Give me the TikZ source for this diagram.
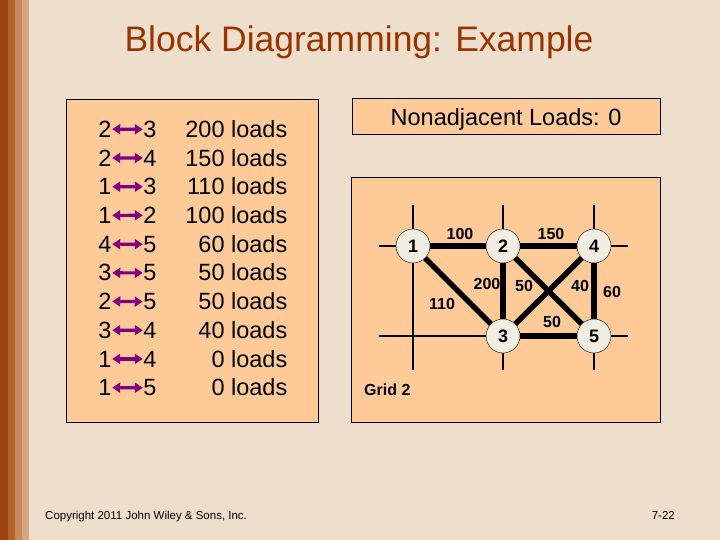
\documentclass[tikz,border=0pt]{standalone}
\usepackage{fontspec}
\setmainfont{Liberation Sans}
\usetikzlibrary{arrows.meta}
\definecolor{slidebg}{HTML}{EEDFCC}
\definecolor{boxpeach}{HTML}{FDCA98}
\definecolor{titlebrown}{HTML}{993300}
\definecolor{stripeA}{HTML}{9C4410}
\definecolor{stripeB}{HTML}{B0642E}
\definecolor{stripeC}{HTML}{C88A5C}
\definecolor{stripeD}{HTML}{D6A47E}
\definecolor{nodecream}{HTML}{F0EDE2}
\definecolor{pairpurple}{HTML}{800080}
\pgfdeclarelayer{deptlayer}
\pgfsetlayers{main,deptlayer}

\begin{document}
\begin{tikzpicture}[x=1pt, y=-1pt, >={Triangle[length=8pt,width=10pt]},
  listtext/.style={font=\fontsize{23.5}{28}\selectfont, inner sep=0.5pt},
  dept/.style={circle, draw, thin, fill=nodecream, minimum size=34pt, inner sep=0pt,
    font=\fontsize{18}{18}\selectfont\bfseries},
  flow/.style={line width=5.5pt},
  gridline/.style={line width=2.7pt},
  wlabel/.style={font=\fontsize{16}{16}\selectfont\bfseries, inner sep=0pt}]
  % slide background and left stripes (720 x 540 px)
  \fill[slidebg] (0,0) rectangle (720,540);
  \useasboundingbox (0,0) rectangle (720,540);
  \fill[stripeA] (0,0) rectangle (8,540);
  \fill[stripeB] (8,0) rectangle (15,540);
  \fill[stripeC] (15,0) rectangle (22,540);
  \fill[stripeD] (22,0) rectangle (29,540);

  % Title
  \node[anchor=base, titlebrown, font=\fontsize{35.5}{40}\selectfont] (title) at (359,52)
    {Block Diagramming: Example};

  % Load list box
  \draw[thin, fill=boxpeach] (66.5,99) rectangle (318,422);
  \foreach \a/\b/\n [count=\i] in {2/3/200, 2/4/150, 1/3/110, 1/2/100, 4/5/60,
                                   3/5/50, 2/5/50, 3/4/40, 1/4/0, 1/5/0} {
    \node[listtext, anchor=base] (pa\i) at (105, {137.4+28.7*(\i-1)}) {\a};
    \node[listtext, anchor=base] (pb\i) at (150, {137.4+28.7*(\i-1)}) {\b};
    \node[listtext, anchor=base east] (ld\i) at (288, {137.4+28.7*(\i-1)}) {\n\ loads};
    \draw[<->, pairpurple, line width=3.2pt] (pa\i.east) -- (pb\i.west);
  }

  % Nonadjacent loads box
  \draw[thin, fill=boxpeach] (352,98) rectangle (660,134);
  \node[listtext, anchor=base west] (nonadj) at (390,125.5) {Nonadjacent Loads: 0};

  % Grid 2 box
  \draw[thin, fill=boxpeach] (351,177) rectangle (660,422);

  % Departments (kept above the lines)
  \begin{pgfonlayer}{deptlayer}
    \node[dept] (d1) at (413,246) {1};
    \node[dept] (d2) at (503,246) {2};
    \node[dept] (d4) at (594,246) {4};
    \node[dept] (d3) at (503,336) {3};
    \node[dept] (d5) at (594,336) {5};
  \end{pgfonlayer}

  % grid lines
  \foreach \x in {413, 503, 594}
    \draw[gridline] (\x,205) -- (\x,370);
  \foreach \y in {246, 336}
    \draw[gridline] (379,\y) -- (628,\y);
  % adjacent flows
  \draw[flow] (d1) -- (d2);
  \draw[flow] (d2) -- (d4);
  \draw[flow] (d1) -- (d3);
  \draw[flow] (d2) -- (d3);
  \draw[flow] (d2) -- (d5);
  \draw[flow] (d4) -- (d3);
  \draw[flow] (d4) -- (d5);
  \draw[flow] (d3) -- (d5);

  % flow labels
  \node[wlabel] (w12) at (460,234) {100};
  \node[wlabel] (w24) at (551,234) {150};
  \node[wlabel] (w23) at (487,284) {200};
  \node[wlabel] (w25) at (524,286) {50};
  \node[wlabel] (w34) at (580,286) {40};
  \node[wlabel] (w45) at (612,292) {60};
  \node[wlabel] (w13) at (442,304) {110};
  \node[wlabel] (w35) at (552,322) {50};
  \node[wlabel, anchor=base west] (gridname) at (364,395) {Grid 2};

  % footer
  \node[anchor=base west, font=\fontsize{11.5}{12}\selectfont, inner sep=0pt] (copy) at (45,519)
    {Copyright 2011 John Wiley \& Sons, Inc.};
  \node[anchor=base east, font=\fontsize{11.5}{12}\selectfont, inner sep=0pt] (slideno) at (675,519)
    {7-22};
\end{tikzpicture}
\end{document}
